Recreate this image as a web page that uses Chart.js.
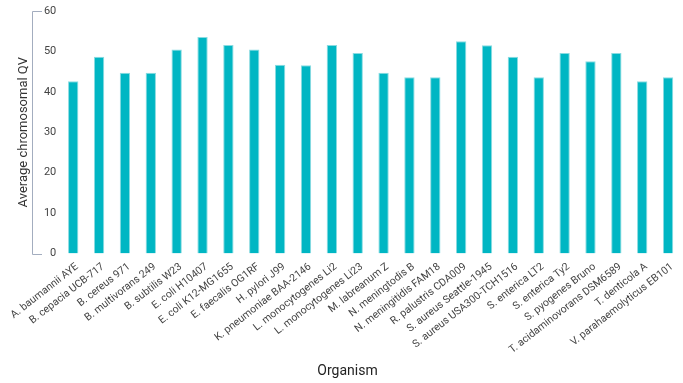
<!DOCTYPE html>
<html>
<head>
<meta charset="utf-8">
<script src="https://cdn.jsdelivr.net/npm/chart.js@4/dist/chart.umd.min.js"></script>
<style>
html,body{margin:0;padding:0;background:#fff;}
#wrap{width:683px;height:383px;}
</style>
</head>
<body>
<div id="wrap"><canvas id="c" width="683" height="383"></canvas></div>
<script>
const organisms = [
  "A. baumannii AYE","B. cepacia UCB-717","B. cereus 971","B. multivorans 249",
  "B. subtilis W23","E. coli H10407","E. coli K12-MG1655","E. faecalis OG1RF",
  "H. pylori J99","K. pneumoniae BAA-2146","L. monocytogenes Li2","L. monocytogenes Li23",
  "M. labreanum Z","N. meningtodis B","N. meningitidis FAM18","R. palustris CDA009",
  "S. aureus Seattle-1945","S. aureus USA300-TCH1516","S. enterica LT2","S. enterica Ty2",
  "S. pyogenes Bruno","T. acidaminovorans DSM6589","T. denticola A","V. parahaemolyticus EB101"
];
const qvValues = [
  42.6, 48.7, 44.7, 44.7,
  50.5, 53.6, 51.6, 50.5,
  46.7, 46.6, 51.6, 49.6,
  44.7, 43.6, 43.6, 52.5,
  51.5, 48.7, 43.6, 49.6,
  47.6, 49.6, 42.6, 43.6
];
const yTicks = [0, 10, 20, 30, 40, 50, 60];

const axisLinePlugin = {
  id: 'axisLine',
  afterDraw(chart) {
    const y = chart.scales.y;
    const ctx = chart.ctx;
    const top = Math.round(y.getPixelForValue(yTicks[yTicks.length - 1]));
    const bot = Math.round(y.getPixelForValue(yTicks[0]));
    const x = 32;
    ctx.save();
    ctx.strokeStyle = '#a3adbf';
    ctx.lineWidth = 1;
    ctx.beginPath();
    ctx.moveTo(x + 10, top + 0.5);
    ctx.lineTo(x + 0.5, top + 0.5);
    ctx.lineTo(x + 0.5, bot + 0.5);
    ctx.lineTo(x + 10, bot + 0.5);
    ctx.stroke();
    ctx.restore();
  }
};

new Chart(document.getElementById('c'), {
  type: 'bar',
  data: {
    labels: organisms,
    datasets: [{
      data: qvValues,
      backgroundColor: '#00b6c3',
      borderColor: '#8adbe1',
      borderWidth: {top: 1, left: 1, right: 1, bottom: 0},
      barPercentage: 0.4,
      categoryPercentage: 1.0
    }]
  },
  options: {
    responsive: false,
    animation: false,
    devicePixelRatio: 1,
    layout: { padding: { left: 14, right: 2, top: 11, bottom: 3 } },
    plugins: {
      legend: { display: false },
      tooltip: { enabled: false },
      title: {
        display: true,
        position: 'bottom',
        text: 'Organism',
        color: '#222',
        font: { family: 'Roboto', size: 14, weight: 'normal' },
        padding: { top: 0, bottom: 0 }
      }
    },
    scales: {
      x: {
        grid: { display: false, drawTicks: false },
        border: { display: false },
        ticks: {
          autoSkip: false,
          minRotation: 38,
          maxRotation: 38,
          padding: 7,
          labelOffset: 4,
          color: '#444',
          font: { family: 'Roboto', size: 10.5 }
        }
      },
      y: {
        min: 0,
        max: 60,
        afterBuildTicks(scale) { scale.ticks = yTicks.map(v => ({ value: v })); },
        grid: { display: false, drawTicks: false },
        border: { display: false },
        ticks: {
          padding: 4,
          color: '#444',
          font: { family: 'Roboto', size: 11 }
        },
        title: {
          display: true,
          text: 'Average chromosomal QV',
          color: '#333',
          font: { family: 'Roboto', size: 13 },
          padding: { top: 0, bottom: 8 }
        }
      }
    }
  },
  plugins: [axisLinePlugin]
});
</script>
</body>
</html>
